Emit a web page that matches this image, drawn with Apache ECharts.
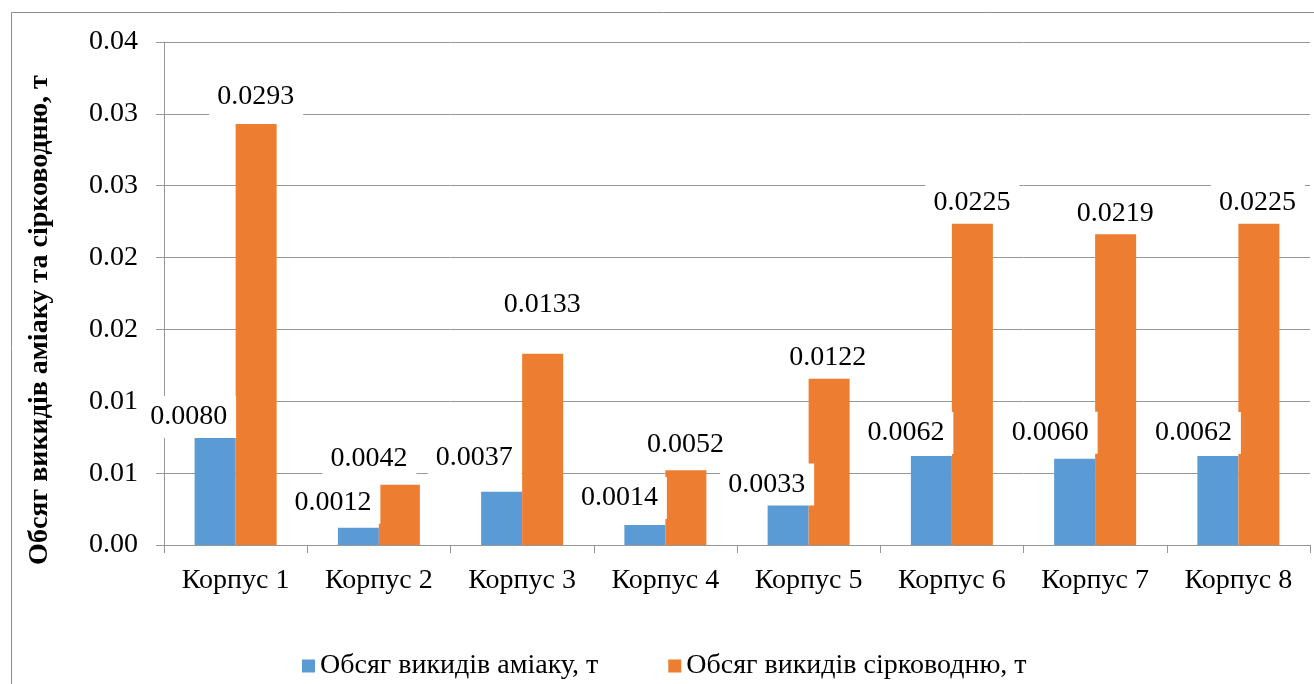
<!DOCTYPE html>
<html>
<head>
<meta charset="utf-8">
<script src="https://cdn.jsdelivr.net/npm/echarts@6/dist/echarts.min.js"></script>
<style>
  html, body { margin: 0; padding: 0; background: #ffffff; }
  #chart { width: 1314px; height: 684px; }
</style>
</head>
<body>
<div id="chart"></div>
<script>
// Emission volumes per building, tonnes
const categories = ['Корпус 1', 'Корпус 2', 'Корпус 3', 'Корпус 4', 'Корпус 5', 'Корпус 6', 'Корпус 7', 'Корпус 8'];
const ammonia = [0.0080, 0.0012, 0.0037, 0.0014, 0.0033, 0.0062, 0.0060, 0.0062];
const hydrogenSulfide = [0.0293, 0.0042, 0.0133, 0.0052, 0.0122, 0.0225, 0.0219, 0.0225];
const seriesNames = ['Обсяг викидів аміаку, т', 'Обсяг викидів сірководню, т'];
const axisTitle = 'Обсяг викидів аміаку та сірководню, т';

// Value axis: step 0.005, labels shown rounded to two decimals
const yStep = 0.005;
const yTickLabels = ['0.00', '0.01', '0.01', '0.02', '0.02', '0.03', '0.03', '0.04'];

// Hand-placed nudges [dx, dy] (px) for the boxed value labels
const ammoniaLabelShift = [[-26, 8], [-25, -4], [-27, -13], [-25, -6], [-21, 8], [-25, -2], [-24, -5], [-24, -2]];
const sulfideLabelShift = [[0, -6], [-30, -5], [0, -28], [0, -5], [-1, 9], [0, 2], [0, 4], [-1, 2]];

const FONT = 'Liberation Serif';
const GREY = '#979797';

function labelled(values, shifts) {
  return values.map((v, i) => ({ value: v, label: { offset: shifts[i] } }));
}

const valueLabel = {
  show: true,
  position: 'top',
  distance: 0,
  formatter: p => p.value.toFixed(4),
  color: '#000',
  fontFamily: FONT,
  fontSize: 28,
  lineHeight: 30,
  backgroundColor: '#ffffff',
  padding: [6, 9, 6, 8]
};

const chart = echarts.init(document.getElementById('chart'), null, { renderer: 'canvas' });

chart.setOption({
  animation: false,
  backgroundColor: '#ffffff',
  textStyle: { fontFamily: FONT },
  grid: { left: 164, right: 4, top: 42, bottom: 139, containLabel: false },
  legend: {
    left: 297,
    top: 647,
    itemWidth: 13,
    itemHeight: 13,
    itemGap: 70,
    icon: 'rect',
    textStyle: { fontFamily: FONT, fontSize: 28, color: '#000' },
    data: seriesNames
  },
  xAxis: {
    type: 'category',
    data: categories,
    boundaryGap: true,
    axisLine: { show: true, lineStyle: { color: GREY, width: 1 } },
    axisTick: { show: true, length: 8, lineStyle: { color: GREY } },
    axisLabel: { color: '#000', fontFamily: FONT, fontSize: 28, margin: 22 }
  },
  yAxis: {
    type: 'value',
    min: 0,
    max: yStep * (yTickLabels.length - 1),
    interval: yStep,
    axisLine: { show: true, lineStyle: { color: GREY, width: 1 } },
    axisTick: { show: true, length: 8, lineStyle: { color: GREY } },
    splitLine: { show: true, lineStyle: { color: GREY, width: 1 } },
    axisLabel: {
      color: '#000',
      fontFamily: FONT,
      fontSize: 28,
      margin: 26,
      formatter: v => yTickLabels[Math.round(v / yStep)]
    }
  },
  graphic: [
    {
      type: 'rect',
      left: 9,
      top: 10,
      shape: { x: 0, y: 0, width: 1400, height: 800 },
      style: { fill: 'none', stroke: '#8c8c8c', lineWidth: 1 },
      silent: true,
      z: -10
    },
    {
      type: 'text',
      x: 40,
      y: 320,
      rotation: Math.PI / 2,
      style: {
        text: axisTitle,
        font: 'bold 28px "Liberation Serif"',
        fill: '#000',
        align: 'center',
        verticalAlign: 'middle'
      },
      silent: true
    }
  ],
  series: [
    {
      name: seriesNames[0],
      type: 'bar',
      barWidth: 41,
      barGap: '0%',
      itemStyle: { color: '#5B9BD5' },
      label: valueLabel,
      data: labelled(ammonia, ammoniaLabelShift)
    },
    {
      name: seriesNames[1],
      type: 'bar',
      barWidth: 41,
      barGap: '0%',
      itemStyle: { color: '#ED7D31' },
      label: valueLabel,
      data: labelled(hydrogenSulfide, sulfideLabelShift)
    }
  ]
});
</script>
</body>
</html>
